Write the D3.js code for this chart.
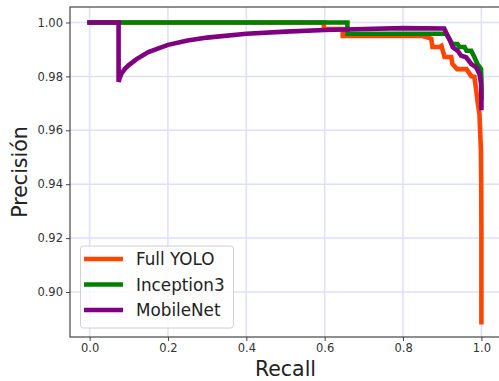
<!DOCTYPE html>
<html>
<head>
<meta charset="utf-8">
<script src="https://cdn.jsdelivr.net/npm/d3@7"></script>
<style>
  body { margin: 0; background: #fff; }
  svg { display: block; font-family: "DejaVu Sans", sans-serif; }
</style>
</head>
<body>
<div id="chart"></div>
<script>
// Data
const SERIES_NAMES = ["Full YOLO", "Inception3", "MobileNet"];
const SERIES_COLORS = ["#ff4500", "#008000", "#800080"];

const yoloRecall = [0, 0.598, 0.598, 0.646, 0.646, 0.85, 0.872, 0.875, 0.893, 0.898, 0.906, 0.923, 0.926, 0.938, 0.962, 0.974, 0.982, 0.987, 0.990, 0.995, 0.9987, 0.9995, 1.0, 1.0];
const yoloPrecision = [1.0, 1.0, 0.9976, 0.9976, 0.9950, 0.9950, 0.9940, 0.9909, 0.9909, 0.9913, 0.9872, 0.9872, 0.9846, 0.9827, 0.9827, 0.9801, 0.9798, 0.9746, 0.9709, 0.9660, 0.9527, 0.9404, 0.9237, 0.8888];

const inceptionRecall = [0, 0.658, 0.658, 0.91, 0.918, 0.926, 0.939, 0.944, 0.957, 0.962, 0.974, 0.982, 0.99, 0.999, 1.0, 1.0];
const inceptionPrecision = [1.0, 1.0, 0.9958, 0.9958, 0.9939, 0.992, 0.992, 0.9909, 0.9909, 0.9895, 0.9895, 0.9872, 0.9846, 0.9827, 0.9787, 0.972];

const mobileRecall = [0, 0.074, 0.074, 0.077, 0.082, 0.09, 0.10, 0.12, 0.15, 0.20, 0.25, 0.30, 0.40, 0.50, 0.60, 0.70, 0.80, 0.905, 0.918, 0.927, 0.9395, 0.948, 0.961, 0.974, 0.9865, 0.995, 0.9993, 1.0, 1.0];
const mobilePrecision = [1.0, 1.0, 0.978, 0.9795, 0.9812, 0.9828, 0.9842, 0.9864, 0.989, 0.9917, 0.9933, 0.9944, 0.9958, 0.9966, 0.9972, 0.9976, 0.9979, 0.9978, 0.9939, 0.9908, 0.9895, 0.9877, 0.9871, 0.9846, 0.9834, 0.9809, 0.9772, 0.9724, 0.9683];

const xTicks = [0.0, 0.2, 0.4, 0.6, 0.8, 1.0];
const yTicks = [0.90, 0.92, 0.94, 0.96, 0.98, 1.00];

const WIDTH = 499;
const HEIGHT = 381;
const LEFT = 70, RIGHT = 501, TOP = 7, BOTTOM = 337;

const svg = d3.select("#chart")
  .append("svg")
  .attr("width", WIDTH)
  .attr("height", HEIGHT);

const x = d3.scaleLinear().domain([-0.05, 1.05]).range([LEFT, RIGHT]);
const y = d3.scaleLinear().domain([0.8833, 1.00575]).range([BOTTOM, TOP]);

// grid
const grid = svg.append("g");
grid.selectAll(".vgrid")
  .data(xTicks)
  .enter()
  .append("line")
  .attr("x1", d => x(d)).attr("x2", d => x(d))
  .attr("y1", TOP).attr("y2", BOTTOM)
  .attr("stroke", "#dedeff")
  .attr("stroke-width", 1.5);
grid.selectAll(".hgrid")
  .data(yTicks)
  .enter()
  .append("line")
  .attr("y1", d => y(d)).attr("y2", d => y(d))
  .attr("x1", LEFT).attr("x2", RIGHT)
  .attr("stroke", "#dedeff")
  .attr("stroke-width", 1.5);

// lines
svg.append("clipPath").attr("id", "clip")
  .append("rect")
  .attr("x", LEFT).attr("y", TOP)
  .attr("width", RIGHT - LEFT).attr("height", BOTTOM - TOP);

const series = [
  d3.zip(yoloRecall, yoloPrecision),
  d3.zip(inceptionRecall, inceptionPrecision),
  d3.zip(mobileRecall, mobilePrecision)
];

const line = d3.line()
  .x(d => x(d[0]))
  .y(d => y(d[1]));

svg.append("g")
  .attr("clip-path", "url(#clip)")
  .selectAll("path")
  .data(series)
  .enter()
  .append("path")
  .attr("d", line)
  .attr("fill", "none")
  .attr("stroke", (d, i) => SERIES_COLORS[i])
  .attr("stroke-width", 4.6)
  .attr("stroke-linejoin", "miter")
  .attr("stroke-linecap", "square");

// axes
const xAxis = d3.axisBottom(x)
  .tickValues(xTicks)
  .tickFormat(d3.format(".1f"))
  .tickSize(4)
  .tickPadding(3);
const yAxis = d3.axisLeft(y)
  .tickValues(yTicks)
  .tickFormat(d3.format(".2f"))
  .tickSize(4)
  .tickPadding(3);

const gx = svg.append("g")
  .attr("transform", `translate(0,${BOTTOM})`)
  .call(xAxis);
const gy = svg.append("g")
  .attr("transform", `translate(${LEFT},0)`)
  .call(yAxis);

[gx, gy].forEach(g => {
  g.select(".domain").remove();
  g.selectAll(".tick line").attr("stroke", "#444").attr("stroke-width", 1);
  g.selectAll(".tick text")
    .attr("fill", "#333")
    .style("font-size", "11.5px")
    .style("font-family", "DejaVu Sans");
});

// spines
svg.append("rect")
  .attr("x", LEFT).attr("y", TOP)
  .attr("width", RIGHT - LEFT).attr("height", BOTTOM - TOP)
  .attr("fill", "none")
  .attr("stroke", "#444")
  .attr("stroke-width", 1.2);

// axis labels
svg.append("text")
  .attr("x", (LEFT + RIGHT) / 2)
  .attr("y", 376)
  .attr("text-anchor", "middle")
  .style("font-size", "20.5px")
  .attr("fill", "#222")
  .text("Recall");

svg.append("text")
  .attr("transform", `translate(27,${(TOP + BOTTOM) / 2}) rotate(-90)`)
  .attr("text-anchor", "middle")
  .style("font-size", "20.5px")
  .attr("fill", "#222")
  .text("Precisión");

// legend
const legend = svg.append("g");
legend.append("rect")
  .attr("x", 80.5).attr("y", 246)
  .attr("width", 153).attr("height", 82)
  .attr("rx", 3)
  .attr("fill", "rgba(255,255,255,0.8)")
  .attr("stroke", "#d0d0d0");

const legendRows = [259, 284.5, 310];
SERIES_NAMES.forEach((name, i) => {
  legend.append("line")
    .attr("x1", 84).attr("x2", 123)
    .attr("y1", legendRows[i]).attr("y2", legendRows[i])
    .attr("stroke", SERIES_COLORS[i])
    .attr("stroke-width", 4.6);
  legend.append("text")
    .attr("x", 136)
    .attr("y", legendRows[i])
    .attr("dy", "0.36em")
    .style("font-size", "16.8px")
    .attr("fill", "#222")
    .text(name);
});
</script>
</body>
</html>
